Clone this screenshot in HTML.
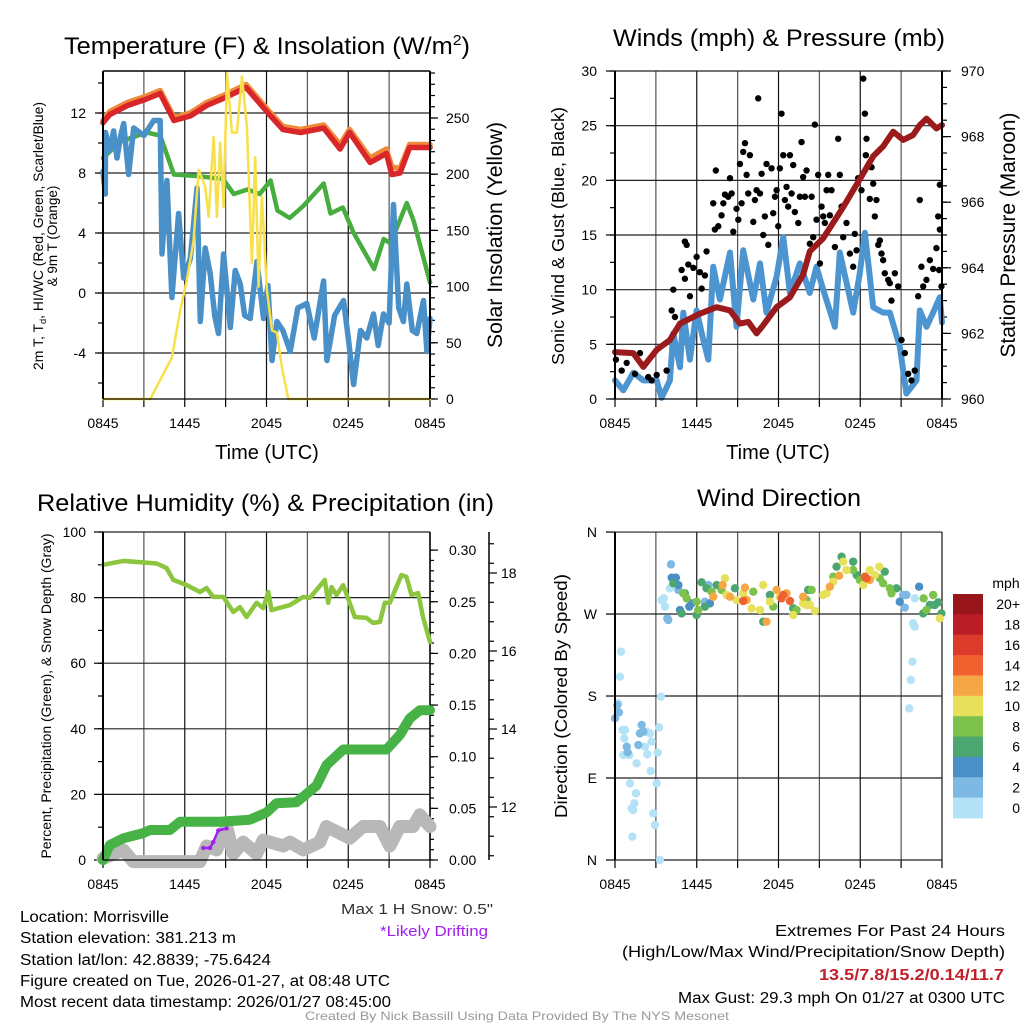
<!DOCTYPE html>
<html><head><meta charset="utf-8"><title>Mesonet Meteogram</title>
<style>
html,body{margin:0;padding:0;background:#fff;}
svg{display:block;font-family:"Liberation Sans",Arial,sans-serif;}
.tk{font-size:14px;fill:#000;}
</style></head>
<body>
<svg id="fig" width="1024" height="1024" viewBox="0 0 1024 1024" xmlns="http://www.w3.org/2000/svg">
<rect x="0" y="0" width="1024" height="1024" fill="#fff"/>
<text x="64" y="54" font-size="24" textLength="406" lengthAdjust="spacingAndGlyphs">Temperature (F) &amp; Insolation (W/m<tspan dy="-9" font-size="15">2</tspan><tspan dy="9">)</tspan></text>
<text x="613" y="46" font-size="24" textLength="332" lengthAdjust="spacingAndGlyphs">Winds (mph) &amp; Pressure (mb)</text>
<text x="37" y="511" font-size="24" textLength="457" lengthAdjust="spacingAndGlyphs">Relative Humidity (%) &amp; Precipitation (in)</text>
<text x="697" y="506" font-size="24" textLength="164" lengthAdjust="spacingAndGlyphs">Wind Direction</text>
<text transform="translate(43,236) rotate(-90)" text-anchor="middle" font-size="13.5" textLength="268" lengthAdjust="spacingAndGlyphs">2m T, T<tspan font-size="9" dy="3">d</tspan><tspan dy="-3">, HI/WC (Red, Green, Scarlet/Blue)</tspan></text>
<text transform="translate(57,236) rotate(-90)" text-anchor="middle" font-size="13.5">&amp; 9m T (Orange)</text>
<text transform="translate(502,235) rotate(-90)" text-anchor="middle" font-size="21" textLength="226" lengthAdjust="spacingAndGlyphs">Solar Insolation (Yellow)</text>
<text x="267" y="459" text-anchor="middle" font-size="20">Time (UTC)</text>
<text transform="translate(564,236) rotate(-90)" text-anchor="middle" font-size="17.5" textLength="258" lengthAdjust="spacingAndGlyphs">Sonic Wind &amp; Gust (Blue, Black)</text>
<text transform="translate(1015,235) rotate(-90)" text-anchor="middle" font-size="21" textLength="245" lengthAdjust="spacingAndGlyphs">Station Pressure (Maroon)</text>
<text x="778" y="459" text-anchor="middle" font-size="20">Time (UTC)</text>
<text transform="translate(51,696) rotate(-90)" text-anchor="middle" font-size="13.5" textLength="325" lengthAdjust="spacingAndGlyphs">Percent, Precipitation (Green), &amp; Snow Depth (Gray)</text>
<text transform="translate(567,696) rotate(-90)" text-anchor="middle" font-size="17.5" textLength="244" lengthAdjust="spacingAndGlyphs">Direction (Colored By Speed)</text>
<text x="1006" y="588" text-anchor="middle" font-size="14">mph</text>
<text x="493" y="914" text-anchor="end" font-size="15" fill="#333" textLength="152" lengthAdjust="spacingAndGlyphs">Max 1 H Snow: 0.5"</text>
<text x="488" y="936" text-anchor="end" font-size="15" fill="#a020f0" textLength="108" lengthAdjust="spacingAndGlyphs">*Likely Drifting</text>
<g font-size="15.5">
<text x="20" y="922" textLength="149" lengthAdjust="spacingAndGlyphs">Location: Morrisville</text>
<text x="20" y="943" textLength="216" lengthAdjust="spacingAndGlyphs">Station elevation: 381.213 m</text>
<text x="20" y="965" textLength="251" lengthAdjust="spacingAndGlyphs">Station lat/lon: 42.8839; -75.6424</text>
<text x="20" y="986" textLength="370" lengthAdjust="spacingAndGlyphs">Figure created on Tue, 2026-01-27, at 08:48 UTC</text>
<text x="20" y="1007" textLength="371" lengthAdjust="spacingAndGlyphs">Most recent data timestamp: 2026/01/27 08:45:00</text>
</g>
<g font-size="15.5" text-anchor="end">
<text x="1005" y="936" textLength="230" lengthAdjust="spacingAndGlyphs">Extremes For Past 24 Hours</text>
<text x="1005" y="957" textLength="383" lengthAdjust="spacingAndGlyphs">(High/Low/Max Wind/Precipitation/Snow Depth)</text>
<text x="1004" y="980" font-weight="bold" fill="#c0202a" textLength="185" lengthAdjust="spacingAndGlyphs">13.5/7.8/15.2/0.14/11.7</text>
<text x="1005" y="1003" textLength="327" lengthAdjust="spacingAndGlyphs">Max Gust: 29.3 mph On 01/27 at 0300 UTC</text>
</g>
<text x="517" y="1020" text-anchor="middle" font-size="12" fill="#999" textLength="424" lengthAdjust="spacingAndGlyphs">Created By Nick Bassill Using Data Provided By The NYS Mesonet</text>
<g id="plots"></g>
</svg>
<script>
const xTickLabels = ["0845","1445","2045","0245","0845"];
const redT = [0,0.5,1.8,3.1,4.2,5.2,6.4,7.6,8.9,10.5,12.3,13.2,14.5,16.2,17.4,18.1,19.6,20.8,21.2,21.8,22.5,24];
const redV = [11.35,11.9,12.5,12.9,13.3,11.5,11.8,12.5,13,13.7,11.8,10.9,10.7,11,9.6,10.7,8.7,9.3,7.9,8,9.7,9.7];
const orangeV = [11.5,12.1,12.7,13.1,13.5,11.7,12,12.7,13.2,13.9,12,11.1,10.9,11.2,9.9,10.9,9,9.6,8.4,8.3,9.9,9.9];
const greenT = [0,1.3,3.2,4.2,5.2,6.9,8.8,9.6,10.6,11.5,12.3,12.8,13.7,14.7,16.2,16.7,17.6,18.4,19.9,20.6,21.1,22.3,22.8,24];
const greenV = [9.0,10.1,10.7,10.5,7.9,7.8,7.6,6.6,6.9,6.6,7.5,5.5,5.0,5.8,7.3,5.3,5.7,4.0,1.6,3.6,3.3,6.0,4.8,0.7];
const blueT = [0,0.17,0.18,0.5,0.78,1.03,1.3,1.52,1.88,2.25,3.0,3.72,4.2,4.33,4.69,5.06,5.55,5.92,6.41,6.9,7.14,7.5,7.87,8.2,8.48,8.85,9.34,9.7,10.07,10.4,10.8,11.3,11.78,12.1,12.4,12.76,13.2,13.74,14.3,14.96,15.5,16.19,16.43,17.0,17.65,18.0,18.39,18.9,19.36,19.85,20.2,20.59,21.0,21.32,21.7,22.05,22.3,22.7,23.03,23.52,23.77,24];
const blueV = [8.1,6.6,10.7,9.5,10.8,9,10.5,11.3,7.9,11,10.5,11.5,11.5,2.6,7.5,-0.3,5.3,1,2.3,7,-1.9,3,1.3,-1.5,-2.7,2.6,-2.3,1.5,0.6,-1.5,-1.7,2.1,-1.7,0.5,-4.5,-1.9,-2.5,-3.9,-1,-0.7,-3,0.8,-4.5,-1.5,-0.5,-3,-6.1,-2.5,-3,-1.4,-3.5,-1.4,-2,5.9,-1,-1.9,0.6,-2.5,-2.7,-0.5,-3.9,-1.7];
const solarT = [0,3.47,4.2,5.06,5.67,6.16,6.65,7.02,7.5,7.75,8.12,8.36,8.6,8.85,9.1,9.46,9.83,10.2,10.56,10.93,11.17,11.42,11.66,12.03,12.4,12.76,13.13,13.6,24];
const solarV = [0,0,17,37,79,106,141,204,189,162,233,162,228,171,290,237,237,287,242,121,215,100,180,97,61,59,28,0,0];
const windT = [0,0.61,1.34,2.08,3.06,3.42,4.03,4.28,4.77,5.01,5.5,5.99,6.48,6.85,7.21,7.7,8.44,8.92,9.41,10.15,10.64,11.12,11.86,12.35,12.84,13.57,14.3,14.79,15.28,16.14,16.5,17.48,17.97,18.34,18.95,19.68,20.17,20.9,21.39,22.13,22.37,22.86,23.35,23.84,24];
const windV = [1.7,0.8,2.4,1.7,1.7,0.1,1.7,6,2.9,7.9,3.6,8.1,5.4,3.6,12.1,9.1,13.4,6.6,13.6,9.1,12.4,7.9,11.2,14.8,9.7,12.4,9.7,12.1,10,6.6,13.4,7.9,11.5,15.2,8.4,7.9,7.9,4.8,0.5,1.7,8.1,6.6,7.9,9.3,7];
const presT = [0,1.34,2.08,3.06,4.03,4.77,6.23,7.46,8.44,9.17,9.78,10.39,10.88,11.86,12.84,13.81,14.3,15.28,16.75,17.97,18.95,19.68,20.42,21.15,21.88,22.37,22.86,23.59,24];
const presV = [961.43,961.4,960.98,961.5,961.8,962.3,962.6,962.8,962.7,962.3,962.35,962,962.25,962.8,963.1,963.8,964.5,964.9,965.85,966.7,967.4,967.7,968.15,967.9,968.05,968.35,968.55,968.25,968.35];
const gustT = [0.07,0.49,0.86,1.47,1.83,2.44,2.69,3.06,3.79,4.16,4.4,4.28,4.89,5.13,5.26,5.13,5.38,5.5,5.75,5.99,6.23,6.36,6.6,6.72,7.21,7.33,7.4,7.58,7.82,7.95,8.07,8.31,8.44,8.56,8.68,8.92,9.05,9.17,9.29,9.41,9.54,9.66,9.78,9.9,10.15,10.27,10.39,10.51,10.64,10.76,10.88,11,11.12,11.25,11.49,11.61,11.74,11.86,11.98,12.1,12.22,12.35,12.47,12.59,12.71,12.84,12.96,13.08,13.2,13.45,13.57,13.69,13.81,13.94,14.06,14.3,14.43,14.55,14.67,14.79,14.91,15.04,15.16,15.28,15.4,15.53,15.65,15.77,15.89,16.14,16.38,16.5,16.63,16.75,16.99,17.24,17.48,17.6,17.73,17.85,18.09,18.22,18.34,18.46,18.41,18.7,18.83,18.95,19.07,19.19,19.32,19.44,19.56,19.68,19.8,20.05,20.17,20.29,20.54,20.78,21.03,21.27,21.52,21.76,22,22.25,22.37,22.49,22.62,22.86,23.11,23.35,23.59,23.72,23.79,23.84,23.84,23.96];
const gustV = [3.6,2.6,3.3,2.3,4.2,2.0,1.7,2.2,2.6,8.1,7.5,10,11.8,14.4,14.1,11,12.3,9.4,12,13,11.6,10.1,11.3,13.5,17.9,15.5,20.9,15.8,16.8,17.9,18.7,18.5,20.2,18.8,15.3,17.4,16.4,21.5,17.9,22.6,23.4,20.5,18.8,22.3,16.2,18.2,19.1,27.5,18.8,20.6,15,16.7,21.5,14.1,21.1,17,18.5,19.1,15.8,21.1,26.1,22.3,18.2,19.4,17.6,22.3,18.8,21.4,17.1,16.1,18.5,23.5,20.3,18.5,20.9,14.2,18.5,14.8,25.1,16.4,20.5,12.4,17.6,16.7,16.1,19.1,20.5,16.8,19.1,13.9,23.8,20.5,17.6,14.8,16.1,13.3,12.1,15.1,13.6,20.2,19.1,29.3,26.1,23.8,22.3,18.3,21.2,19.7,16.7,18.2,14.1,14.5,13.3,12.7,11.5,10.9,10.6,9.0,11.5,10.3,5.4,4.2,2.3,1.7,2.6,9.4,18.2,12.1,10.3,10.9,12.7,11.9,13.8,16.7,11.8,15.5,19.6,10.3];
const rhT = [0,1.49,3.94,4.67,5.16,6.14,7.11,7.6,8.09,8.83,9.56,10.05,10.54,11.27,11.76,12.13,12.37,13.72,14.69,15.18,16.28,16.53,16.77,17.14,17.63,18.48,19.34,19.83,20.32,20.68,21.05,21.91,22.27,22.64,23.13,23.5,24];
const rhV = [90,91.2,90.4,89,85.4,83.8,81.7,82.9,80.2,80.2,75.6,77.1,74.1,78.4,76.8,81.7,76.2,77.7,80.2,79.9,85.4,78.4,83.2,80.8,83.8,74.1,73.8,72.3,72.6,78.4,78.4,86.9,86.3,80.8,81.4,73.8,66.5];
const precipT = [0,0.51,1.49,2.96,3.45,4.91,5.65,8.58,10.78,12.0,12.74,14.2,15.67,16.41,17.63,20.81,21.78,22.51,23.25,24];
const precipV = [0,0.0145,0.021,0.026,0.029,0.029,0.037,0.037,0.039,0.046,0.055,0.056,0.072,0.092,0.107,0.107,0.121,0.137,0.145,0.145];
const snowT = [0,1.49,2.22,7.11,7.6,8.33,9.07,9.56,10.29,11.27,11.76,13.23,13.72,14.69,15.91,16.4,18.11,19.09,20.32,21.05,21.78,22.76,23.25,24];
const snowV = [10.68,10.9,10.6,10.6,11.0,10.9,11.5,10.8,11.1,10.8,11.15,11.0,11.1,10.9,11.1,11.5,11.2,11.5,11.5,11.0,11.5,11.5,11.8,11.5];
const driftT = [7.36,7.85,8.09,8.46,9.07];
const driftV = [10.95,10.95,11.1,11.4,11.45];
const dirT = [0.44,0.37,0.24,0.56,0.73,0.68,0.61,1.05,1.59,1.1,1.54,1.42,1.22,1.34,1.27,2.32,2.57,2.69,2.2,2.37,2.62,3.06,2.81,2.93,3.13,3.23,3.37,3.3,3.42,3.59,3.67,4.03,21.88,22,21.83,21.71,21.59,22,
 0,0.17,0.29,1.96,2.08,1.83,1.71,0.86,0.93,4.11,3.84,3.91,21.15,21.39,21.27,6.85,4.65,6.6,
 4.16,4.47,4.65,4.77,5.45,5.62,6.97,20.9,22.32,
 4.28,4.89,5.13,5.99,6.36,6.6,6.72,7.46,8.8,10.88,11.37,13.08,14.18,16.63,16.26,17.48,17.73,19.8,20.66,22.62,23.96,23.11,23.47,23.72,
 5.01,5.26,6.11,5.99,7.09,7.82,10.15,11.61,13.32,14.06,14.43,17.48,19.44,20.17,20.29,22.65,23.35,22.86,16.02,17.97,19.68,
 8.07,8.92,8.19,10.03,10.64,10.88,11.37,13.08,13.81,14.06,14.3,14.67,15.28,15.53,16.02,16.75,16.99,18.22,18.7,19.07,19.39,23.84,9.41,12.1,
 7.21,7.9,8.44,9.54,9.66,11.86,13.81,15.77,16.45,11.12,12.59,18.7,
 9.41,12.35,12.84,18.46,18.34,12.22];
const dirV = [228.7,201.2,172,142.7,142.7,133.5,115.2,115.2,106.1,84.1,73.2,62.2,56.7,54.9,25.6,140.8,139,129.9,124.4,116,97.7,84.1,51.2,38.4,117.8,145.6,179.3,0,285.4,287.2,278.1,298.2,259.8,256.1,217.7,197.6,166.4,287.2,
 155.5,170.1,162,148.2,140.8,139,126.2,124.4,118.2,324.5,265.2,263.4,290.9,290.9,277,301.8,296.4,283.5,
 309.9,309.9,301.8,274.4,278.1,281.7,281.7,283.5,300,
 303.7,270.7,292.7,268.9,304.8,278.1,298.2,301.8,298.2,261.6,290.9,276.2,296.4,332.9,322,327.5,312.8,316.5,298.2,270.7,270.7,279.9,279.9,282.8,
 292.7,287.2,274.4,283.5,294.5,296.4,294.5,278.1,274.4,285.4,296.4,318.3,309.2,298.2,292.7,287.2,290.9,274.4,311,307.3,303.7,
 309.2,285.4,290.9,276.2,274.4,301.8,283.5,268.9,281.7,279.9,279.9,273.3,290.9,292.7,305.5,327.5,318.3,301.8,318.3,312.8,322,265.2,292.7,289,
 289,301.8,289,299,285.4,296.4,289,300,312.1,261.6,292.7,307.3,
 284.3,290.9,284.3,309.2,311,287.2];
const dirSpeed = [1,1,1,1,1,1,1,1,1,1,1,1,1,1,1,1,1,1,1,1,1,1,1,1,1,1,1,1,1,1,1,1,1,1,1,1,1,1,
 3,3,3,3,3,3,3,3,3,3,3,3,3,3,3,3,3,3,
 5,5,5,5,5,5,5,5,5,
 7,7,7,7,7,7,7,7,7,7,7,7,7,7,7,7,7,7,7,7,7,7,7,7,
 9,9,9,9,9,9,9,9,9,9,9,9,9,9,9,9,9,9,9,9,9,
 11,11,11,11,11,11,11,11,11,11,11,11,11,11,11,11,11,11,11,11,11,11,11,11,
 13,13,13,13,13,13,13,13,13,13,13,13,
 15,15,15,15,15,15];
const cbLabels = ["20+","18","16","14","12","10","8","6","4","2","0"];
const cbColors = ["#98161b","#bb1e26","#dc3a2b","#ef6230","#f6a745","#e6e05a","#7cc24d","#4ba66f","#4a8fc6","#7eb9e3","#b4e2f7"];

const NS = "http://www.w3.org/2000/svg";
const root = document.getElementById('plots');
function mk(tag, name, attrs, parent) {
  const el = document.createElementNS(NS, tag);
  
  
  for (const k in attrs) el.setAttribute(k, attrs[k]);
  (parent || root).appendChild(el);
  return el;
}
function txt(name, x, y, s, anchor, parent) {
  const t = mk('text', name, {x: x, y: y, 'text-anchor': anchor, 'class': 'tk'}, parent);
  t.textContent = s;
  return t;
}
function xScale(p, t) { return p.x0 + t * (p.x1 - p.x0) / 24; }
function linePath(p, ts, vs, yf) {
  let d = "";
  for (let i = 0; i < ts.length; i++) d += (i ? "L" : "M") + xScale(p, ts[i]).toFixed(1) + " " + yf(vs[i]).toFixed(1);
  return d;
}
function grid(p, g, hvals, yf) {
  for (let h = 0; h <= 24; h += 3) {
    const x = xScale(p, h);
    mk('line', 'v-gridline', {x1: x, x2: x, y1: p.y0, y2: p.y1, stroke: (h % 6 ? '#555' : '#111'), 'stroke-width': 1.2}, g);
    mk('line', 'x-tick', {x1: x, x2: x, y1: p.y1, y2: p.y1 + 8, stroke: '#000', 'stroke-width': 1.2}, g);
  }
  hvals.forEach(v => {
    const y = yf(v);
    mk('line', 'h-gridline', {x1: p.x0, x2: p.x1, y1: y, y2: y, stroke: '#222', 'stroke-width': 1.2}, g);
  });
  for (let i = 0; i < xTickLabels.length; i++) {
    txt('x-tick-label', xScale(p, i * 6), p.y1 + 29, xTickLabels[i], 'middle', g);
  }
}
function axisTicks(g, x, vals, yf, len, name) {
  vals.forEach(v => {
    const y = yf(v);
    mk('line', name, {x1: x, x2: x + len, y1: y, y2: y, stroke: '#000', 'stroke-width': 1.2}, g);
  });
}
function range(a, b, s) { const r = []; for (let v = a; v <= b + 1e-9; v += s) r.push(+v.toFixed(4)); return r; }
function spines(p, g, right) {
  mk('line', 'left-spine', {x1: p.x0, x2: p.x0, y1: p.y0, y2: p.y1, stroke: '#000', 'stroke-width': 2}, g);
  mk('line', 'bottom-spine', {x1: p.x0, x2: p.x1, y1: p.y1, y2: p.y1, stroke: '#000', 'stroke-width': 1.2}, g);
  if (right) mk('line', 'right-spine', {x1: p.x1, x2: p.x1, y1: p.y0, y2: p.y1, stroke: '#000', 'stroke-width': 2}, g);
}

(function(){
  const p = {x0: 103, x1: 430, y0: 71, y1: 399};
  const g = mk('g', 'temperature-panel', {});
  const yT = v => 293 - v * 15;
  const yS = v => 399 - v * 1.124;
  grid(p, g, [-4,0,4,8,12], yT);
  mk('line', 'top-spine', {x1: p.x0, x2: p.x1, y1: p.y0, y2: p.y0, stroke: '#000', 'stroke-width': 1.5}, g);
  axisTicks(g, p.x0, range(-6, 14, 2), yT, -5, 'temp-minor-tick');
  axisTicks(g, p.x0, [-4,0,4,8,12], yT, -8, 'temp-major-tick');
  [-4,0,4,8,12].forEach(v => txt('temp-tick-label', 86, yT(v) + 5, String(v), 'end', g));
  axisTicks(g, p.x1, range(0, 290, 10), yS, 5, 'solar-minor-tick');
  axisTicks(g, p.x1, range(0, 250, 50), yS, 8, 'solar-major-tick');
  range(0, 250, 50).forEach(v => txt('solar-tick-label', 446, yS(v) + 5, String(v), 'start', g));
  const lc = {fill: 'none', 'stroke-linejoin': 'round', 'stroke-linecap': 'round'};
  mk('path', 'temp-9m-orange-line', Object.assign({d: linePath(p, redT, orangeV, yT), stroke: '#f08a3a', 'stroke-width': 5.5}, lc), g);
  mk('path', 'temp-2m-red-line', Object.assign({d: linePath(p, redT, redV, yT), stroke: '#d8262a', 'stroke-width': 5.5}, lc), g);
  mk('path', 'dewpoint-green-line', Object.assign({d: linePath(p, greenT, greenV, yT), stroke: '#46ad3e', 'stroke-width': 4.5}, lc), g);
  mk('path', 'windchill-blue-line', Object.assign({d: linePath(p, blueT, blueV, yT), stroke: '#4a90c8', 'stroke-width': 5.5}, lc), g);
  mk('path', 'solar-yellow-line', Object.assign({d: linePath(p, solarT, solarV, yS), stroke: '#f7e04a', 'stroke-width': 2.5}, lc), g);
  spines(p, g, true);
})();

(function(){
  const p = {x0: 615, x1: 942, y0: 71, y1: 399};
  const g = mk('g', 'winds-panel', {});
  const yW = v => 399 - v * 10.933;
  const yP = v => 399 - (v - 960) * 32.8;
  grid(p, g, [5,10,15,20,25,30], yW);
  axisTicks(g, p.x0, range(0, 30, 2.5), yW, -5, 'wind-minor-tick');
  axisTicks(g, p.x0, range(0, 30, 5), yW, -9, 'wind-major-tick');
  range(0, 30, 5).forEach(v => txt('wind-tick-label', 597, yW(v) + 5, String(v), 'end', g));
  axisTicks(g, p.x1, range(960, 970, 0.5), yP, 5, 'pressure-minor-tick');
  axisTicks(g, p.x1, range(960, 970, 2), yP, 9, 'pressure-major-tick');
  range(960, 970, 2).forEach(v => txt('pressure-tick-label', 961, yP(v) + 5, String(v), 'start', g));
  const lc = {fill: 'none', 'stroke-linejoin': 'round', 'stroke-linecap': 'round'};
  mk('path', 'sonic-wind-blue-line', Object.assign({d: linePath(p, windT, windV, yW), stroke: '#4d95d0', 'stroke-width': 6}, lc), g);
  for (let i = 0; i < gustT.length; i++) {
    mk('circle', 'gust-point', {cx: xScale(p, gustT[i]), cy: yW(gustV[i]), r: 3.2, fill: '#000'}, g);
  }
  mk('path', 'pressure-maroon-line', Object.assign({d: linePath(p, presT, presV, yP), stroke: '#9b1a1c', 'stroke-width': 6}, lc), g);
  spines(p, g, true);
})();

(function(){
  const p = {x0: 103, x1: 430, y0: 532, y1: 860};
  const g = mk('g', 'humidity-panel', {});
  const yR = v => 860 - v * 3.28;
  const yPr = v => 860 - v * 1033;
  const ySn = v => 573 - (v - 18) * 39;
  grid(p, g, [20,40,60,80,100], yR);
  axisTicks(g, p.x0, range(0, 100, 10), yR, -5, 'rh-minor-tick');
  axisTicks(g, p.x0, range(0, 100, 20), yR, -9, 'rh-major-tick');
  range(0, 100, 20).forEach(v => txt('rh-tick-label', 86, yR(v) + 5, String(v), 'end', g));
  mk('line', 'precip-spine', {x1: p.x1, x2: p.x1, y1: p.y0, y2: p.y1, stroke: '#000', 'stroke-width': 1.5}, g);
  axisTicks(g, p.x1, range(0, 0.3, 0.01), yPr, 4, 'precip-minor-tick');
  axisTicks(g, p.x1, range(0, 0.3, 0.05), yPr, 8, 'precip-major-tick');
  range(0, 0.3, 0.05).forEach(v => txt('precip-tick-label', 449, yPr(v) + 5, v.toFixed(2), 'start', g));
  mk('line', 'snow-spine', {x1: 489, x2: 489, y1: p.y0, y2: p.y1, stroke: '#000', 'stroke-width': 1.5}, g);
  axisTicks(g, 489, range(10.75, 19, 0.5), ySn, 5, 'snow-minor-tick');
  axisTicks(g, 489, [12,14,16,18], ySn, 8, 'snow-major-tick');
  [12,14,16,18].forEach(v => txt('snow-tick-label', 501, ySn(v) + 5, String(v), 'start', g));
  const lc = {fill: 'none', 'stroke-linejoin': 'round', 'stroke-linecap': 'round'};
  mk('path', 'rh-line', Object.assign({d: linePath(p, rhT, rhV, yR), stroke: '#8cc63f', 'stroke-width': 4.5}, lc), g);
  mk('path', 'snow-depth-line', Object.assign({d: linePath(p, snowT, snowV, ySn), stroke: '#b8b8b8', 'stroke-width': 13}, lc), g);
  mk('path', 'drifting-line', Object.assign({d: linePath(p, driftT, driftV, ySn), stroke: '#a020f0', 'stroke-width': 2.5}, lc), g);
  for (let i = 0; i < driftT.length; i++) {
    mk('circle', 'drifting-point', {cx: xScale(p, driftT[i]), cy: ySn(driftV[i]), r: 2.2, fill: '#a020f0'}, g);
  }
  mk('path', 'precip-line', Object.assign({d: linePath(p, precipT, precipV, yPr), stroke: '#47b347', 'stroke-width': 10}, lc), g);
  spines(p, g, false);
})();

(function(){
  const p = {x0: 615, x1: 942, y0: 532, y1: 860};
  const g = mk('g', 'wind-direction-panel', {});
  const yD = v => 860 - v * 0.911;
  const dirTicks = [0, 90, 180, 270, 360];
  const dirLabels = ["N","E","S","W","N"];
  grid(p, g, dirTicks, yD);
  axisTicks(g, p.x0, dirTicks, yD, -9, 'direction-major-tick');
  for (let i = 0; i < dirTicks.length; i++) txt('direction-tick-label', 597, yD(dirTicks[i]) + 5, dirLabels[i], 'end', g);
  function colorFor(s) { const idx = Math.min(10, Math.floor(s / 2)); return cbColors[10 - idx]; }
  for (let i = 0; i < dirT.length; i++) {
    mk('circle', 'direction-point', {cx: xScale(p, dirT[i]), cy: yD(dirV[i]), r: 4.2, fill: colorFor(dirSpeed[i])}, g);
  }
  mk('line', 'left-spine', {x1: p.x0, x2: p.x0, y1: p.y0, y2: p.y1, stroke: '#000', 'stroke-width': 2}, g);
  const cb = mk('g', 'speed-colorbar', {}, g);
  const cellH = 224 / 11;
  for (let i = 0; i < cbColors.length; i++) {
    mk('rect', 'colorbar-cell', {x: 953, y: 594 + i * cellH, width: 30, height: cellH + 0.5, fill: cbColors[i]}, cb);
    txt('colorbar-label', 1020, 594 + i * cellH + cellH / 2 + 5, cbLabels[i], 'end', cb);
  }
})();
</script>
</body></html>
